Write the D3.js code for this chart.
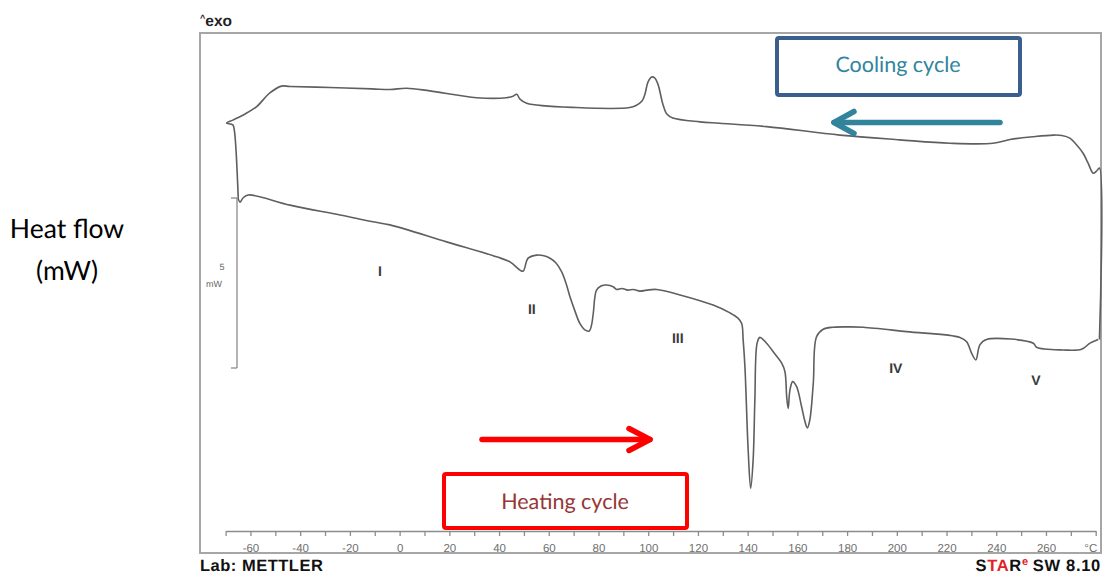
<!DOCTYPE html>
<html>
<head>
<meta charset="utf-8">
<script src="https://cdn.jsdelivr.net/npm/d3@7"></script>
<style>
  html, body { margin: 0; padding: 0; background: #fff; }
  svg { display: block; }
  text { text-rendering: geometricPrecision; }
</style>
</head>
<body>
<svg id="chart" width="1103" height="575"></svg>
<script>
// DSC thermogram: heating run (-65 → 281 °C) followed by cooling run back down.
// Temperatures in °C, heat flow in mW (arbitrary offset, exo up).

const heatTemp = [-64.9, -64.2, -63.0, -60.9, -44.1, -24.0, -10.7, -3.9, 18.9, 39.0, 44.4, 48.4, 49.7, 51.7,
  55.1, 57.6, 60.5, 62.9, 65.2, 66.9, 68.5, 70.5, 72.5, 74.5, 76.3, 77.2, 77.9, 79.2, 81.0, 83.3, 85.9,
  87.3, 89.4, 91.8, 94.0, 96.7, 99.4, 103.4, 112.8, 126.1, 132.9, 136.2, 137.6, 138.2, 138.9, 140.2,
  141.2, 142.2, 142.9, 143.8, 144.9, 147.6, 151.0, 153.7, 155.0, 155.7, 156.3, 157.0, 158.1, 159.7,
  161.7, 163.0, 164.0, 165.0, 166.4, 167.7, 170.4, 174.4, 181.1, 186.5, 203.9, 225.4, 228.1, 230.1,
  231.8, 233.4, 236.1, 254.9, 256.2, 266.9, 274.3, 277.7, 281.0];
const heatFlow = [4.97, 4.88, 5.00, 5.09, 4.79, 4.50, 4.30, 4.21, 3.71, 3.27, 3.12, 2.88, 2.85, 3.23,
  3.32, 3.31, 3.23, 3.09, 2.83, 2.50, 2.10, 1.68, 1.31, 1.12, 1.09, 1.26, 1.61, 2.29, 2.41, 2.44, 2.39,
  2.31, 2.34, 2.29, 2.31, 2.26, 2.29, 2.31, 2.15, 1.85, 1.62, 1.46, 1.31, 0.82, 0.04, -2.41,
  -3.54, -2.71, -0.94, 0.73, 0.90, 0.73, 0.41, 0.14, -0.11, -0.84, -1.19, -0.65, -0.40, -0.55,
  -1.14, -1.56, -1.76, -1.53, -0.45, 0.92, 1.14, 1.20, 1.21, 1.20, 1.07, 0.90, 0.77, 0.43,
  0.24, 0.68, 0.84, 0.73, 0.61, 0.53, 0.55, 0.73, 0.84];

// Cooling run, listed from the hot end back to the cold end (joins the heating start).
const coolTemp = [281.5, 281.5, 280.3, 279.0, 276.9, 275.0, 272.0, 269.6, 266.4, 262.9, 254.7, 245.5,
  238.7, 221.4, 201.2, 177.1, 147.6, 128.8, 120.8, 109.9, 107.5, 105.9, 103.9, 102.5, 101.4, 99.9,
  98.7, 97.5, 95.1, 92.6, 71.2, 51.1, 48.4, 47.1, 45.6, 43.0, 31.0, 12.2, 2.8, -3.9, -11.1, -28.0,
  -44.1, -47.5, -52.2, -57.5, -62.2, -67.1, -69.6, -67.1, -66.5, -64.9];
const coolFlow = [0.84, 5.88, 5.79, 5.73, 6.03, 6.31, 6.59, 6.76, 6.84, 6.85, 6.80, 6.72,
  6.61, 6.61, 6.71, 6.85, 7.10, 7.20, 7.24, 7.35, 7.47, 7.76, 8.35, 8.54, 8.56, 8.41,
  8.06, 7.85, 7.72, 7.66, 7.66, 7.79, 7.91, 8.05, 7.99, 7.95, 7.95, 8.15, 8.23, 8.19, 8.21, 8.25,
  8.28, 8.29, 8.09, 7.69, 7.47, 7.29, 7.20, 7.15, 7.00, 4.97];

const tempTicks = d3.range(-70, 281, 10);
const tempLabels = [-60, -40, -20, 0, 20, 40, 60, 80, 100, 120, 140, 160, 180, 200, 220, 240, 260];
const unitLabel = "°C";

const regionNames = ["I", "II", "III", "IV", "V"];
const regionTemp = [-7.9, 53.2, 111.9, 199.6, 256.0];
const regionFlow = [2.88, 1.76, 0.91, 0.03, -0.32];

const scaleBar = [0, 5]; // mW

const svg = d3.select("#chart");

const x = d3.scaleLinear().domain([-70, 280]).range([225.6, 1095.7]);
const y = d3.scaleLinear().domain([0, 5]).range([368, 198]);

// Plot frame
svg.append("rect")
  .attr("x", 200).attr("y", 33).attr("width", 901).attr("height", 520)
  .attr("fill", "none").attr("stroke", "#a6a6a6").attr("stroke-width", 2);

// "^exo" direction marker
const exo = svg.append("text")
  .attr("x", 200).attr("y", 26)
  .attr("font-family", "Liberation Sans, Arial, sans-serif")
  .attr("font-weight", "bold").attr("font-size", 15.5).attr("fill", "#222");
exo.append("tspan").attr("font-size", 9).attr("dy", -5).text("^");
exo.append("tspan").attr("dy", 5).text("exo");

// Temperature axis
const axis = d3.axisBottom(x)
  .tickValues(tempTicks)
  .tickSize(5).tickSizeOuter(0).tickPadding(8)
  .tickFormat(d => d === 280 ? unitLabel : (tempLabels.includes(d) ? String(d) : ""));
const gx = svg.append("g").attr("transform", "translate(0,531)").call(axis);
gx.select(".domain").attr("stroke", "#8c8c8c").attr("stroke-width", 1.3);
gx.selectAll(".tick line").attr("stroke", "#8c8c8c").attr("stroke-width", 1.3);
gx.selectAll(".tick text")
  .attr("font-family", "Liberation Sans, Arial, sans-serif")
  .attr("font-size", 11.5).attr("fill", "#707070");
gx.selectAll(".tick").filter(d => d === 280).select("text")
  .attr("text-anchor", "end").attr("dx", 1);

// 5 mW scale bar
const sb = svg.append("g").attr("stroke", "#8c8c8c").attr("stroke-width", 1.3).attr("fill", "none");
sb.append("line").attr("x1", 237).attr("x2", 237).attr("y1", y(scaleBar[0])).attr("y2", y(scaleBar[1]));
sb.append("line").attr("x1", 231).attr("x2", 237).attr("y1", y(scaleBar[0])).attr("y2", y(scaleBar[0]));
sb.append("line").attr("x1", 231).attr("x2", 237).attr("y1", y(scaleBar[1])).attr("y2", y(scaleBar[1]));
svg.append("text").attr("x", 222).attr("y", 270).attr("text-anchor", "middle")
  .attr("font-family", "Liberation Sans, Arial, sans-serif").attr("font-size", 9).attr("fill", "#666")
  .text("5");
svg.append("text").attr("x", 214).attr("y", 287).attr("text-anchor", "middle")
  .attr("font-family", "Liberation Sans, Arial, sans-serif").attr("font-size", 9).attr("fill", "#666")
  .text("mW");

// Curves
const line = d3.line()
  .x(d => x(d[0])).y(d => y(d[1]))
  .curve(d3.curveCatmullRom.alpha(0.5));

const heating = heatTemp.map((t, i) => [t, heatFlow[i]]);
const cooling = coolTemp.map((t, i) => [t, coolFlow[i]]);

[heating, cooling].forEach(pts => {
  svg.append("path").datum(pts)
    .attr("d", line)
    .attr("fill", "none")
    .attr("stroke", "#5f5f5f")
    .attr("stroke-width", 1.6)
    .attr("stroke-linejoin", "round");
});

// Region numerals
svg.append("g").selectAll("text").data(regionNames).join("text")
  .attr("x", (d, i) => x(regionTemp[i]))
  .attr("y", (d, i) => y(regionFlow[i]) + 6)
  .attr("text-anchor", "middle")
  .attr("font-family", "Liberation Sans, Arial, sans-serif")
  .attr("font-weight", "bold")
  .attr("font-size", 14).attr("fill", "#3a3a3a")
  .text(d => d);

// Y-axis title
const yTitle = svg.append("text").attr("text-anchor", "middle")
  .attr("font-family", "Lato, 'Open Sans', sans-serif").attr("font-size", 26.5).attr("fill", "#000");
yTitle.append("tspan").attr("x", 67).attr("y", 238).text("Heat flow");
yTitle.append("tspan").attr("x", 67).attr("y", 280).text("(mW)");

// Cooling annotation
svg.append("rect").attr("x", 777).attr("y", 38).attr("width", 243).attr("height", 57).attr("rx", 2)
  .attr("fill", "#fff").attr("stroke", "#3a5f8e").attr("stroke-width", 4);
svg.append("text").attr("x", 898).attr("y", 72).attr("text-anchor", "middle")
  .attr("font-family", "Lato, 'Open Sans', sans-serif").attr("font-size", 21.5).attr("fill", "#31859c")
  .text("Cooling cycle");
const teal = svg.append("g").attr("stroke", "#31849b").attr("stroke-width", 5.5)
  .attr("stroke-linecap", "round").attr("stroke-linejoin", "round").attr("fill", "none");
teal.append("line").attr("x1", 1000).attr("x2", 834).attr("y1", 122.5).attr("y2", 122.5);
teal.append("path").attr("d", "M854,111.5L834,122.5L854,133.5");

// Heating annotation
const red = svg.append("g").attr("stroke", "#ff0000").attr("stroke-width", 5.5)
  .attr("stroke-linecap", "round").attr("stroke-linejoin", "round").attr("fill", "none");
red.append("line").attr("x1", 482).attr("x2", 650).attr("y1", 439.5).attr("y2", 439.5);
red.append("path").attr("d", "M629,428.5L650,439.5L629,450.5");
svg.append("rect").attr("x", 444).attr("y", 474).attr("width", 243).attr("height", 54).attr("rx", 2)
  .attr("fill", "#fff").attr("stroke", "#ff0000").attr("stroke-width", 4);
svg.append("text").attr("x", 565).attr("y", 509).attr("text-anchor", "middle")
  .attr("font-family", "Lato, 'Open Sans', sans-serif").attr("font-size", 21.5).attr("fill", "#953735")
  .text("Heating cycle");

// Footer
svg.append("text").attr("x", 200).attr("y", 571)
  .attr("font-family", "Liberation Sans, Arial, sans-serif").attr("font-weight", "bold")
  .attr("font-size", 16.5).attr("letter-spacing", 0.5).attr("fill", "#111")
  .text("Lab: METTLER");
const star = svg.append("text").attr("x", 1101).attr("y", 571).attr("text-anchor", "end")
  .attr("font-family", "Liberation Sans, Arial, sans-serif").attr("font-weight", "bold")
  .attr("font-size", 16.5).attr("letter-spacing", 0.7).attr("fill", "#111");
star.append("tspan").text("S");
star.append("tspan").attr("fill", "#e32222").text("TA");
star.append("tspan").text("R");
star.append("tspan").attr("fill", "#e32222").attr("font-size", 11).attr("dy", -6).text("e");
star.append("tspan").attr("dy", 6).attr("dx", 4).text("SW 8.10");
</script>
</body>
</html>
